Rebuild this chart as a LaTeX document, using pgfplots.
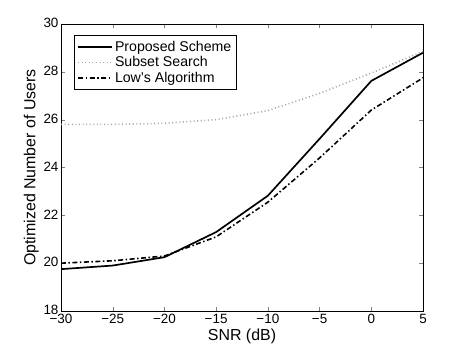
\documentclass[border=0pt]{standalone}
\usepackage{fontspec}
\setmainfont{Liberation Sans}
\usepackage{pgfplots}
\pgfplotsset{compat=1.18}

\begin{document}
\begin{tikzpicture}
\begin{axis}[
  scale only axis,
  width=362bp, height=287bp,
  xmin=-30, xmax=5, ymin=18, ymax=30,
  xtick={-30,-25,...,5}, ytick={18,20,...,30},
  xticklabels={−30,−25,−20,−15,−10,−5,0,5},
  tick align=inside, major tick length=4bp,
  xlabel={SNR (dB)}, ylabel={Optimized Number of Users},
  every axis label/.append style={font=\fontsize{16}{18}\selectfont},
  tick label style={font=\fontsize{13.5}{15}\selectfont},
  /pgf/number format/assume math mode=true,
  xticklabel style={yshift=0.5bp},
  yticklabel style={xshift=1bp, yshift=1bp},
  xlabel style={yshift=1bp},
  ylabel style={yshift=-2bp},
  axis line style={line width=0.6pt},
  legend cell align=left,
  legend style={at={(13bp,276bp)}, anchor=north west, draw=black, line width=0.6pt,
    nodes={font=\fontsize{14.2}{19}\selectfont}, row sep=0pt, inner xsep=3bp, inner ysep=3.5bp},
  legend image code/.code={\draw[#1] (0cm,0cm) -- (1.2cm,0cm);},
]
\addplot[black, line width=1.7pt] coordinates {
  (-30,19.75) (-25,19.9) (-20,20.25) (-15,21.3) (-10,22.82) (-5,25.2) (0,27.62) (5,28.8)};
\addlegendentry{Proposed Scheme}
\addplot[gray!70, line width=1.6pt, dash pattern=on 1pt off 2.6pt] coordinates {
  (-30,25.8) (-25,25.8) (-20,25.85) (-15,26.0) (-10,26.38) (-5,27.1) (0,27.95) (5,28.85)};
\addlegendentry{Subset Search}
\addplot[black, line width=1.6pt, dash pattern=on 5pt off 2.5pt on 1.5pt off 2.5pt] coordinates {
  (-30,20.0) (-25,20.1) (-20,20.3) (-15,21.1) (-10,22.55) (-5,24.4) (0,26.4) (5,27.75)};
\addlegendentry{Low's Algorithm}
\end{axis}
\pgfresetboundingbox
\path ([shift={(-61bp,-40bp)}]current axis.south west) rectangle ([shift={(44bp,24bp)}]current axis.north east);
\end{tikzpicture}
\end{document}
